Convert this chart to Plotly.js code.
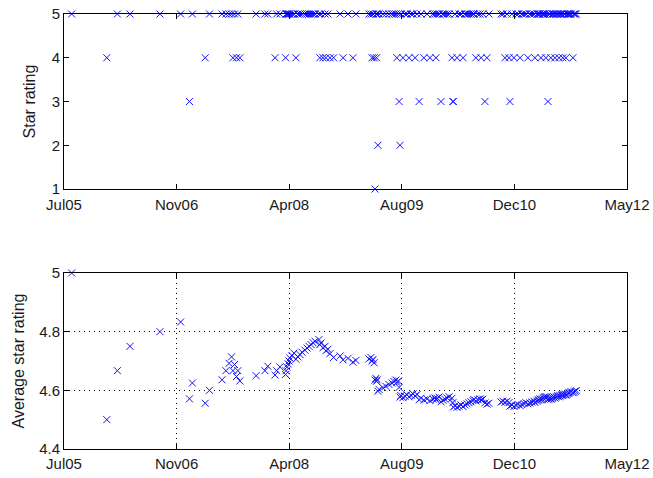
<!DOCTYPE html>
<html>
<head>
<meta charset="utf-8">
<script src="https://cdn.plot.ly/plotly-3.0.1.min.js"></script>
<style>html,body{margin:0;padding:0;background:#fff;}#chart{width:653px;height:478px;}</style>
</head>
<body>
<div id="chart"></div>
<script>
// Review dates
const reviewDates = [
"2005-08-10","2006-01-13","2006-03-01","2006-04-26","2006-09-06","2006-12-07","2007-01-15","2007-01-28","2007-03-26","2007-04-14",
"2007-06-09","2007-06-26","2007-07-10","2007-07-21","2007-07-27","2007-08-03","2007-08-12","2007-08-18","2007-08-27","2007-11-07",
"2007-12-16","2007-12-29","2008-01-30","2008-02-06","2008-02-21","2008-03-17","2008-03-19","2008-03-23","2008-03-28","2008-04-01",
"2008-04-05","2008-04-14","2008-04-23","2008-05-02","2008-05-11","2008-05-20","2008-05-29","2008-06-11","2008-06-20","2008-06-29",
"2008-07-08","2008-07-17","2008-07-26","2008-08-12","2008-08-16","2008-08-21","2008-08-30","2008-09-08","2008-09-12","2008-09-21",
"2008-09-30","2008-10-16","2008-11-14","2008-11-27","2008-12-19","2009-01-10","2009-01-23","2009-03-22","2009-03-31","2009-04-05",
"2009-04-09","2009-04-14","2009-04-18","2009-04-22","2009-04-25","2009-04-27","2009-05-01","2009-05-06","2009-05-23","2009-06-05",
"2009-06-19","2009-07-02","2009-07-11","2009-07-20","2009-07-24","2009-07-31","2009-08-03","2009-08-07","2009-08-11","2009-08-20",
"2009-08-29","2009-09-07","2009-09-16","2009-09-25","2009-10-04","2009-10-13","2009-10-22","2009-10-31","2009-11-08","2009-11-21",
"2009-12-05","2009-12-18","2009-12-31","2010-01-09","2010-01-14","2010-01-18","2010-01-27","2010-02-05","2010-02-14","2010-02-22",
"2010-03-04","2010-03-13","2010-03-26","2010-03-30","2010-04-01","2010-04-08","2010-04-17","2010-04-26","2010-05-05","2010-05-14",
"2010-05-23","2010-06-01","2010-06-09","2010-06-18","2010-06-27","2010-07-01","2010-07-10","2010-07-19","2010-07-28","2010-08-02",
"2010-08-10","2010-08-19","2010-08-28","2010-09-06","2010-10-30","2010-11-07","2010-11-16","2010-11-25","2010-12-04","2010-12-08",
"2010-12-17","2010-12-26","2011-01-04","2011-01-13","2011-01-22","2011-01-31","2011-02-09","2011-02-17","2011-02-26","2011-03-07",
"2011-03-16","2011-03-25","2011-03-29","2011-04-07","2011-04-11","2011-04-16","2011-04-20","2011-04-25","2011-04-29","2011-05-04",
"2011-05-08","2011-05-13","2011-05-17","2011-05-22","2011-05-26","2011-05-30","2011-06-04","2011-06-08","2011-06-13","2011-06-17",
"2011-06-21","2011-06-26","2011-06-30","2011-07-05","2011-07-09","2011-07-14","2011-07-18","2011-07-23","2011-07-27","2011-07-31",
"2011-08-05","2011-08-09","2011-08-14","2011-08-18","2011-08-23","2011-08-27","2011-08-31","2011-09-05","2011-09-14","2011-09-18",
"2011-09-23","2011-09-29"
];

// Star rating of each review
const starRatings = [
5,4,5,5,5,5,3,5,4,5,
5,5,5,5,4,5,4,5,4,5,
5,5,4,5,5,4,5,5,5,5,
5,5,5,4,5,5,5,5,5,5,
5,5,5,5,4,5,4,5,4,5,
4,4,5,4,5,4,5,5,5,4,
5,4,1,5,4,5,2,5,5,5,
5,5,5,5,4,5,3,2,5,4,
5,5,4,5,5,4,5,3,5,4,
5,4,5,5,4,5,5,3,5,5,
5,5,4,3,3,5,4,5,5,4,
5,5,5,5,5,5,4,5,5,4,
5,3,4,5,5,5,4,5,4,3,
5,4,5,5,4,5,5,5,4,5,
5,5,4,5,5,5,5,4,5,5,
5,5,4,5,3,5,5,4,5,5,
5,4,5,5,5,4,5,5,5,4,
5,5,4,5,5,5,5,5,4,5,
5,5
];

// Average star rating after each review
const averageRatings = [
5.000,4.500,4.667,4.750,4.800,4.833,4.571,4.625,4.556,4.600,
4.636,4.667,4.692,4.714,4.667,4.688,4.647,4.667,4.632,4.650,
4.667,4.682,4.652,4.667,4.680,4.654,4.667,4.679,4.690,4.700,
4.710,4.719,4.727,4.706,4.714,4.722,4.730,4.737,4.744,4.750,
4.756,4.762,4.767,4.773,4.756,4.761,4.745,4.750,4.735,4.740,
4.725,4.712,4.717,4.704,4.709,4.696,4.702,4.707,4.712,4.700,
4.705,4.694,4.635,4.641,4.631,4.636,4.597,4.603,4.609,4.614,
4.620,4.625,4.630,4.635,4.627,4.632,4.610,4.577,4.582,4.575,
4.580,4.585,4.578,4.583,4.588,4.581,4.586,4.568,4.573,4.567,
4.571,4.565,4.570,4.574,4.568,4.573,4.577,4.561,4.566,4.570,
4.574,4.578,4.573,4.558,4.543,4.547,4.542,4.546,4.550,4.545,
4.550,4.554,4.558,4.561,4.565,4.569,4.564,4.568,4.571,4.567,
4.570,4.557,4.553,4.556,4.560,4.563,4.559,4.563,4.558,4.546,
4.550,4.545,4.549,4.552,4.548,4.551,4.555,4.558,4.554,4.557,
4.560,4.563,4.559,4.563,4.566,4.568,4.571,4.568,4.570,4.573,
4.576,4.579,4.575,4.578,4.568,4.571,4.573,4.570,4.572,4.575,
4.578,4.574,4.577,4.579,4.582,4.578,4.581,4.583,4.586,4.582,
4.585,4.587,4.584,4.586,4.589,4.591,4.593,4.596,4.592,4.594,
4.597,4.599
];

// Axis ticks
const xTickDates = ["2005-07-07","2006-11-19","2008-04-02","2009-08-15","2010-12-28","2012-05-11"];
const xTickLabels = ["Jul05","Nov06","Apr08","Aug09","Dec10","May12"];
const starTicks = [1,2,3,4,5];
const avgTicks = [4.4,4.6,4.8,5];
const avgTickLabels = ["4.4","4.6","4.8","5"];

const markerStyle = {symbol: "x-thin-open", size: 7, color: "rgb(20,20,255)", line: {width: 1, color: "rgb(20,20,255)"}};

const traces = [
  {x: reviewDates, y: starRatings, type: "scatter", mode: "markers", marker: markerStyle,
   xaxis: "x", yaxis: "y", cliponaxis: false, hoverinfo: "x+y"},
  {x: reviewDates, y: averageRatings, type: "scatter", mode: "markers", marker: markerStyle,
   xaxis: "x2", yaxis: "y2", cliponaxis: false, hoverinfo: "x+y"}
];

const fontFam = "Liberation Sans, Arial, Helvetica, sans-serif";
const txtColor = "#1a1a1a";
const axisCommon = {
  showline: true, linecolor: "#000", linewidth: 1, mirror: "ticks",
  ticks: "inside", ticklen: 5, tickwidth: 1, tickcolor: "#000",
  zeroline: false, tickfont: {family: fontFam, size: 15, color: txtColor}
};
const gridDot = {showgrid: true, gridcolor: "#000", gridwidth: 1, griddash: "1px,4px"};

const layout = {
  width: 653, height: 478,
  margin: {l: 64, r: 26, t: 14, b: 29},
  paper_bgcolor: "#fff", plot_bgcolor: "#fff",
  showlegend: false,
  font: {family: fontFam, size: 15, color: txtColor},
  xaxis: Object.assign({}, axisCommon, {
    type: "date", anchor: "y", domain: [0, 1],
    range: [xTickDates[0], xTickDates[xTickDates.length - 1]],
    tickmode: "array", tickvals: xTickDates, ticktext: xTickLabels, showgrid: false,
    ticklabelstandoff: 2
  }),
  yaxis: Object.assign({}, axisCommon, {
    anchor: "x", domain: [0.5977, 1], range: [1, 5],
    tickmode: "array", tickvals: starTicks, showgrid: false,
    title: {text: "Star rating", standoff: 12, font: {family: fontFam, size: 16, color: txtColor}}
  }),
  xaxis2: Object.assign({}, axisCommon, gridDot, {
    type: "date", anchor: "y2", domain: [0, 1],
    range: [xTickDates[0], xTickDates[xTickDates.length - 1]],
    tickmode: "array", tickvals: xTickDates, ticktext: xTickLabels,
    ticklabelstandoff: 1
  }),
  yaxis2: Object.assign({}, axisCommon, gridDot, {
    anchor: "x2", domain: [0, 0.4046], range: [4.4, 5],
    tickmode: "array", tickvals: avgTicks, ticktext: avgTickLabels,
    title: {text: "Average star rating", standoff: 10, font: {family: fontFam, size: 16, color: txtColor}}
  })
};

Plotly.newPlot("chart", traces, layout, {staticPlot: true, displayModeBar: false});
</script>
</body>
</html>
